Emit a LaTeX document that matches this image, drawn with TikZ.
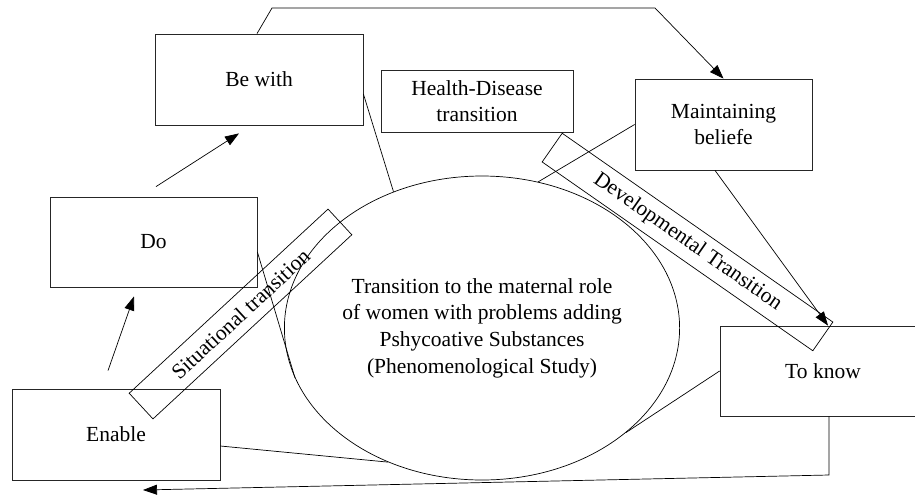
\documentclass[tikz,border=0pt]{standalone}
\usepackage{fontspec}
\setmainfont{Liberation Serif}
\usetikzlibrary{shapes.geometric,arrows.meta}
\begin{document}
\begin{tikzpicture}[x=1pt,y=-1pt,
  every node/.style={font=\fontsize{21.5}{26.7}\selectfont, align=center},
  box/.style={draw=black!85, line width=0.8pt, rectangle, inner sep=0pt},
  tbox/.style={draw=black, line width=0.7pt, rectangle, inner sep=0pt, minimum height=35pt},
  conn/.style={draw=black, line width=0.7pt},
  arr/.style={conn, -{Triangle[length=14pt,width=10pt]}}]
\clip (0,0) rectangle (915,499);
\fill[white] (0,0) rectangle (915,499);
% boxes
\node[box, minimum width=208pt, minimum height=91pt] (bewith) at (259,79.5) {Be with};
\node[box, minimum width=192pt, minimum height=62pt] (health) at (477,101) {Health-Disease\\transition};
\node[box, minimum width=177pt, minimum height=91pt] (maint) at (723.5,124.5) {Maintaining\\beliefe};
\node[box, minimum width=207pt, minimum height=90pt] (do) at (153.5,242) {Do};
\node[box, minimum width=208pt, minimum height=91pt] (enable) at (116,434.5) {Enable};
\node[box, minimum width=206pt, minimum height=90pt] (toknow) at (823,371) {To know};
% central ellipse
\node[draw=black, line width=0.7pt, ellipse, minimum width=394pt, minimum height=304pt, inner sep=0pt] (ell) at (482,328)
  {Transition to the maternal role\\of women with problems adding\\Pshycoative Substances\\(Phenomenological Study)};
% rotated transition boxes
\node[tbox, rotate=42.8, minimum width=271pt] (sit) at (240.5,314) {Situational transition};
\node[tbox, rotate=-34.9, minimum width=330pt] (dev) at (687.5,242) {Developmental Transition};
% coordinates
\coordinate (t1) at (272,8);
\coordinate (t2) at (655,8);
\coordinate (b1) at (829,475);
\coordinate (back) at (143,490);
% connectors
\draw[arr] ([xshift=2.5pt,yshift=10pt]do.north) -- ([xshift=-20pt,yshift=-8pt]bewith.south);
\draw[arr] ([xshift=-8pt,yshift=18pt]enable.north) -- ([xshift=-19.5pt,yshift=-9pt]do.south);
\draw[arr] ([xshift=-2pt]bewith.north) -- (t1) -- (t2) -- (maint.north);
\draw[arr] ([xshift=-8.5pt]maint.south) -- ([xshift=5pt]toknow.north);
\draw[conn] ([yshift=-14.5pt]bewith.east) -- (ell.123.3);
\draw[conn] (maint.west) -- (ell.69.4);
\draw[conn] (toknow.west) -- (ell.-36.9);
\draw[conn] ([yshift=-11.5pt]enable.east) -- (ell.235.5);
\draw[conn] ([yshift=-10pt]do.east) -- (ell.195.7);
\draw[arr] ([xshift=6pt]toknow.south) -- (b1) -- (back);
\end{tikzpicture}
\end{document}
